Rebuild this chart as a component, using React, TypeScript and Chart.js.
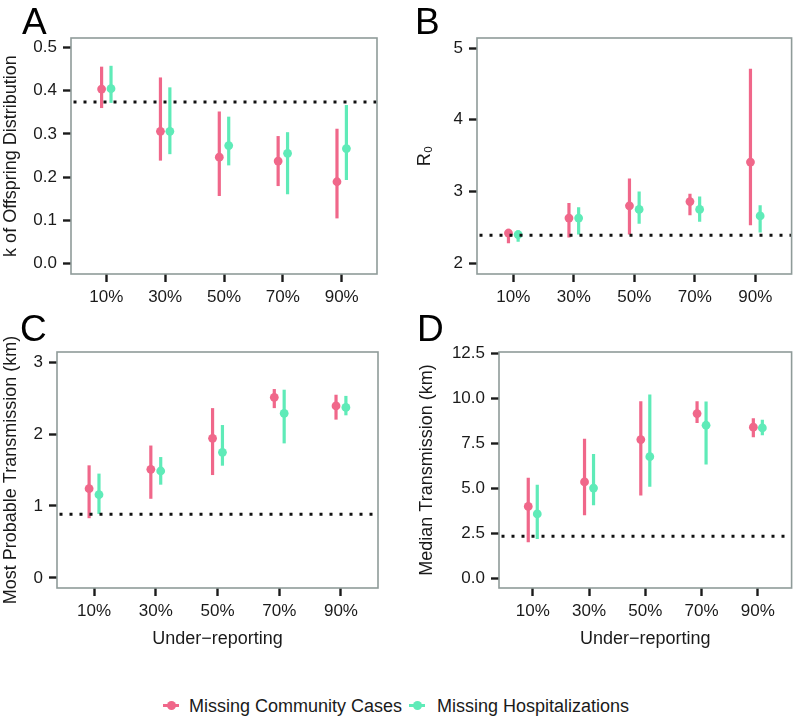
import React, { useEffect, useRef } from 'react';
import { Chart, registerables } from 'chart.js';

Chart.register(...registerables);
Chart.defaults.font.family = "'Liberation Sans', Arial, sans-serif";
Chart.defaults.color = '#1a1a1a';

// ---------------- data ----------------
const categories = ['10%', '30%', '50%', '70%', '90%'];
const seriesNames = ['Missing Community Cases', 'Missing Hospitalizations'];
const communityColor = '#F0678A';
const hospColor = '#5FEBB8';

// Panel A: k of offspring distribution
const kCommunityMid = [0.404, 0.306, 0.246, 0.237, 0.189];
const kCommunityLow = [0.36, 0.238, 0.156, 0.179, 0.104];
const kCommunityHigh = [0.456, 0.431, 0.352, 0.295, 0.312];
const kHospMid = [0.405, 0.306, 0.273, 0.255, 0.266];
const kHospLow = [0.372, 0.253, 0.227, 0.16, 0.193];
const kHospHigh = [0.458, 0.408, 0.34, 0.304, 0.367];
const kTrue = 0.374;
const kTicks = [0, 0.1, 0.2, 0.3, 0.4, 0.5];
const kTickLabels = ['0.0', '0.1', '0.2', '0.3', '0.4', '0.5'];

// Panel B: R0
const r0CommunityMid = [2.42, 2.63, 2.8, 2.86, 3.41];
const r0CommunityLow = [2.28, 2.36, 2.4, 2.67, 2.53];
const r0CommunityHigh = [2.48, 2.84, 3.18, 2.97, 4.71];
const r0HospMid = [2.4, 2.63, 2.75, 2.75, 2.66];
const r0HospLow = [2.3, 2.4, 2.55, 2.58, 2.43];
const r0HospHigh = [2.46, 2.78, 3.0, 2.93, 2.81];
const r0True = 2.39;
const r0Ticks = [2, 3, 4, 5];
const r0TickLabels = ['2', '3', '4', '5'];

// Panel C: most probable transmission (km)
const mpCommunityMid = [1.24, 1.51, 1.94, 2.51, 2.39];
const mpCommunityLow = [0.83, 1.1, 1.43, 2.36, 2.2];
const mpCommunityHigh = [1.565, 1.84, 2.36, 2.625, 2.546];
const mpHospMid = [1.157, 1.486, 1.745, 2.287, 2.37];
const mpHospLow = [0.89, 1.296, 1.56, 1.87, 2.26];
const mpHospHigh = [1.45, 1.68, 2.125, 2.616, 2.53];
const mpTrue = 0.884;
const mpTicks = [0, 1, 2, 3];
const mpTickLabels = ['0', '1', '2', '3'];

// Panel D: median transmission (km)
const mdCommunityMid = [3.99, 5.35, 7.71, 9.16, 8.4];
const mdCommunityLow = [1.99, 3.49, 4.59, 8.64, 7.84];
const mdCommunityHigh = [5.59, 7.76, 9.84, 9.84, 8.9];
const mdHospMid = [3.57, 5.01, 6.76, 8.51, 8.36];
const mdHospLow = [2.17, 4.05, 5.09, 6.32, 7.95];
const mdHospHigh = [5.2, 6.91, 10.22, 9.83, 8.82];
const mdTrue = 2.32;
const mdTicks = [0, 2.5, 5, 7.5, 10, 12.5];
const mdTickLabels = ['0.0', '2.5', '5.0', '7.5', '10.0', '12.5'];

// ---------------- layout / style ----------------
const X_MIN = 0.4;
const X_MAX = 5.6;
const DODGE = 0.08;
const TEXT = '#1a1a1a';

type Series = { mid: number[]; low: number[]; high: number[]; color: string; dodge: number };

type PanelCfg = {
  left: number; top: number; w: number; h: number;
  padTop: number; padRight: number; yWidth: number; xHeight: number;
  yMin: number; yMax: number; ticks: number[]; tickLabels: string[];
  yTitle: string; yTitlePad: number; xTitle?: string;
  series: Series[]; trueVal: number;
};

const panels: PanelCfg[] = [
  {
    left: 0, top: 0, w: 398, h: 318, padTop: 38, padRight: 21, yWidth: 71, xHeight: 44,
    yMin: -0.025, yMax: 0.5225, ticks: kTicks, tickLabels: kTickLabels,
    yTitle: 'k of Offspring Distribution', yTitlePad: 0,
    series: [
      { mid: kCommunityMid, low: kCommunityLow, high: kCommunityHigh, color: communityColor, dodge: -DODGE },
      { mid: kHospMid, low: kHospLow, high: kHospHigh, color: hospColor, dodge: DODGE },
    ],
    trueVal: kTrue,
  },
  {
    left: 398, top: 0, w: 398, h: 318, padTop: 38, padRight: 1, yWidth: 79, xHeight: 44,
    yMin: 1.85, yMax: 5.14, ticks: r0Ticks, tickLabels: r0TickLabels,
    yTitle: 'R\u2080', yTitlePad: 16,
    series: [
      { mid: r0CommunityMid, low: r0CommunityLow, high: r0CommunityHigh, color: communityColor, dodge: -DODGE },
      { mid: r0HospMid, low: r0HospLow, high: r0HospHigh, color: hospColor, dodge: DODGE },
    ],
    trueVal: r0True,
  },
  {
    left: 0, top: 318, w: 398, h: 340, padTop: 34, padRight: 20, yWidth: 57, xHeight: 70,
    yMin: -0.14, yMax: 3.14, ticks: mpTicks, tickLabels: mpTickLabels,
    yTitle: 'Most Probable Transmission (km)', yTitlePad: 0, xTitle: 'Under\u2212reporting',
    series: [
      { mid: mpCommunityMid, low: mpCommunityLow, high: mpCommunityHigh, color: communityColor, dodge: -DODGE },
      { mid: mpHospMid, low: mpHospLow, high: mpHospHigh, color: hospColor, dodge: DODGE },
    ],
    trueVal: mpTrue,
  },
  {
    left: 398, top: 318, w: 398, h: 340, padTop: 34, padRight: 1, yWidth: 101, xHeight: 70,
    yMin: -0.557, yMax: 12.59, ticks: mdTicks, tickLabels: mdTickLabels,
    yTitle: 'Median Transmission (km)', yTitlePad: 18, xTitle: 'Under\u2212reporting',
    series: [
      { mid: mdCommunityMid, low: mdCommunityLow, high: mdCommunityHigh, color: communityColor, dodge: -DODGE },
      { mid: mdHospMid, low: mdHospLow, high: mdHospHigh, color: hospColor, dodge: DODGE },
    ],
    trueVal: mdTrue,
  },
];

const boxPlugin = {
  id: 'panelBox',
  afterDraw(chart: any) {
    const { ctx, chartArea } = chart;
    const { left, top, right, bottom } = chartArea;
    ctx.save();
    ctx.strokeStyle = '#8F9B99';
    ctx.lineWidth = 1.6;
    ctx.strokeRect(left, top, right - left, bottom - top);
    ctx.restore();
  },
};

function buildDatasets(cfg: PanelCfg) {
  const ds: any[] = [];
  cfg.series.forEach((s) => {
    s.mid.forEach((_, i) => {
      const x = i + 1 + s.dodge;
      ds.push({
        data: [{ x, y: s.low[i] }, { x, y: s.high[i] }],
        showLine: true,
        borderColor: s.color,
        borderWidth: 3.2,
        borderCapStyle: 'butt',
        pointRadius: 0,
        order: 2,
      });
    });
    ds.push({
      data: s.mid.map((v, i) => ({ x: i + 1 + s.dodge, y: v })),
      showLine: false,
      pointRadius: 4.4,
      pointBackgroundColor: s.color,
      pointBorderWidth: 0,
      order: 1,
    });
  });
  ds.push({
    data: [{ x: X_MIN, y: cfg.trueVal }, { x: X_MAX, y: cfg.trueVal }],
    showLine: true,
    borderColor: '#111111',
    borderWidth: 3,
    borderDash: [3, 7],
    borderDashOffset: 7.5,
    borderCapStyle: 'butt',
    pointRadius: 0,
    order: 0,
  });
  return ds;
}

function Panel({ cfg }: { cfg: PanelCfg }) {
  const ref = useRef<HTMLCanvasElement>(null);
  useEffect(() => {
    if (!ref.current) return;
    const chart = new Chart(ref.current, {
      type: 'scatter',
      data: { datasets: buildDatasets(cfg) },
      options: {
        responsive: false,
        maintainAspectRatio: false,
        animation: false,
        events: [],
        layout: { padding: { top: cfg.padTop, right: cfg.padRight, left: 0, bottom: 0 } },
        plugins: { legend: { display: false }, tooltip: { enabled: false } },
        scales: {
          x: {
            type: 'linear',
            min: X_MIN,
            max: X_MAX,
            afterBuildTicks: (s: any) => {
              s.ticks = categories.map((_, i) => ({ value: i + 1 }));
            },
            afterFit: (s: any) => {
              s.height = cfg.xHeight;
            },
            ticks: {
              autoSkip: false,
              maxRotation: 0,
              padding: 5,
              color: TEXT,
              font: { size: 17 },
              callback: (v: any) => categories[Math.round(Number(v)) - 1] ?? '',
            },
            grid: { drawOnChartArea: false, drawTicks: true, tickLength: 8, tickWidth: 2.4, tickColor: TEXT },
            border: { display: false },
            title: cfg.xTitle
              ? { display: true, text: cfg.xTitle, color: TEXT, font: { size: 18 }, padding: { top: 0, bottom: 8 } }
              : { display: false },
          },
          y: {
            type: 'linear',
            min: cfg.yMin,
            max: cfg.yMax,
            afterBuildTicks: (s: any) => {
              s.ticks = cfg.ticks.map((v) => ({ value: v }));
            },
            afterFit: (s: any) => {
              s.width = cfg.yWidth;
            },
            ticks: {
              autoSkip: false,
              padding: 6,
              color: TEXT,
              font: { size: 17 },
              callback: (_v: any, i: number) => cfg.tickLabels[i],
            },
            grid: { drawOnChartArea: false, drawTicks: true, tickLength: 8, tickWidth: 2.4, tickColor: TEXT },
            border: { display: false },
            title: { display: true, text: cfg.yTitle, color: TEXT, font: { size: 18 }, padding: { top: cfg.yTitlePad, bottom: 0 } },
          },
        },
      },
      plugins: [boxPlugin],
    } as any);
    return () => chart.destroy();
  }, []);
  return (
    <canvas
      ref={ref}
      width={cfg.w}
      height={cfg.h}
      style={{ position: 'absolute', left: cfg.left, top: cfg.top, width: cfg.w, height: cfg.h }}
    />
  );
}

const letterStyle = (left: number, top: number): React.CSSProperties => ({
  position: 'absolute',
  left,
  top,
  fontSize: 37,
  lineHeight: '37px',
  fontFamily: "'Liberation Sans', Arial, sans-serif",
  color: '#000',
});

function LegendMarker({ left, color }: { left: number; color: string }) {
  return (
    <div style={{ position: 'absolute', left, top: 697, width: 16, height: 16 }}>
      <div style={{ position: 'absolute', left: 0, top: 6.5, width: 16, height: 3, background: color }} />
      <div style={{ position: 'absolute', left: 3.5, top: 3.5, width: 9, height: 9, borderRadius: '50%', background: color }} />
    </div>
  );
}

const legendText = (left: number): React.CSSProperties => ({
  position: 'absolute',
  left,
  top: 697,
  fontSize: 18,
  lineHeight: '18px',
  whiteSpace: 'nowrap',
  fontFamily: "'Liberation Sans', Arial, sans-serif",
  color: TEXT,
});

export default function App() {
  return (
    <div style={{ position: 'absolute', left: 0, top: 0, width: 796, height: 718, background: '#fff', overflow: 'hidden' }}>
      {panels.map((p, i) => (
        <Panel key={i} cfg={p} />
      ))}
      <div style={letterStyle(22, 3)}>A</div>
      <div style={letterStyle(415, 3)}>B</div>
      <div style={letterStyle(20, 310)}>C</div>
      <div style={letterStyle(417, 310)}>D</div>
      <LegendMarker left={163} color={communityColor} />
      <div style={legendText(189)}>{seriesNames[0]}</div>
      <LegendMarker left={409} color={hospColor} />
      <div style={legendText(437)}>{seriesNames[1]}</div>
    </div>
  );
}
